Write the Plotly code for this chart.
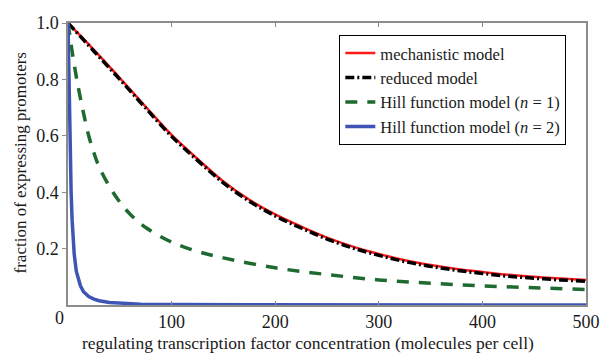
import plotly.graph_objects as go

# ---- data ----
conc = [0, 25, 50, 75, 100, 125, 150, 175, 200, 225, 250, 275, 300, 325, 350, 375, 400, 425, 450, 475, 500]
mechanistic = [1.0, 0.905, 0.805, 0.703, 0.603, 0.518, 0.438, 0.373, 0.321, 0.278, 0.239, 0.207, 0.181, 0.159, 0.142, 0.128, 0.117, 0.107, 0.100, 0.094, 0.089]
reduced = [1.0, 0.900, 0.800, 0.698, 0.598, 0.513, 0.433, 0.368, 0.316, 0.273, 0.234, 0.202, 0.176, 0.154, 0.137, 0.123, 0.112, 0.102, 0.095, 0.089, 0.084]

conc_h1 = [0, 5, 10, 15, 20, 25, 30, 40, 50, 60, 75, 100, 125, 150, 200, 250, 300, 350, 400, 450, 500]
hill_n1 = [1.0, 0.875, 0.77, 0.68, 0.60, 0.54, 0.49, 0.42, 0.365, 0.322, 0.275, 0.223, 0.19, 0.167, 0.132, 0.108, 0.089, 0.077, 0.068, 0.061, 0.055]

conc_h2 = [0, 0.5, 1, 1.5, 2, 3, 4, 5, 6, 8, 10, 12, 15, 20, 25, 30, 40, 50, 70, 100, 150, 200, 300, 400, 500]
hill_n2 = [1.0, 0.90, 0.72, 0.61, 0.52, 0.40, 0.30, 0.23, 0.18, 0.12, 0.089, 0.068, 0.047, 0.030, 0.021, 0.015, 0.009, 0.006, 0.003, 0.0015, 0.0008, 0.0005, 0.0003, 0.0002, 0.0001]

x_ticks = [100, 200, 300, 400, 500]
y_ticks = [0.2, 0.4, 0.6, 0.8, 1.0]
y_ticklabels = ["0.2", "0.4", "0.6", "0.8", "1.0"]

names = ["mechanistic model", "reduced model",
         "Hill function model (<i>n</i> = 1)", "Hill function model (<i>n</i> = 2)"]

FONT = "Liberation Serif"
AX = "#8c8c8c"
TXT = "#1a1a1a"

fig = go.Figure()
fig.add_trace(go.Scatter(x=conc, y=mechanistic, mode="lines", name=names[0],
                         line=dict(color="#ff1a1a", width=2.5, shape="spline")))
fig.add_trace(go.Scatter(x=conc, y=reduced, mode="lines", name=names[1],
                         line=dict(color="#000000", width=3.5, shape="spline", dash="9px,3px,2px,3px")))
fig.add_trace(go.Scatter(x=conc_h1, y=hill_n1, mode="lines", name=names[2],
                         line=dict(color="#1f6a30", width=3.5, shape="spline", dash="12px,10px")))
fig.add_trace(go.Scatter(x=conc_h2, y=hill_n2, mode="lines", name=names[3],
                         line=dict(color="#3f55b5", width=3.5)))

fig.update_layout(
    width=612, height=354,
    margin=dict(l=68, r=15, t=23, b=49),
    paper_bgcolor="white", plot_bgcolor="white",
    font=dict(family=FONT, size=17, color=TXT),
    showlegend=True,
    legend=dict(x=0.962, y=0.958, xanchor="right", yanchor="top",
                bordercolor="#000", borderwidth=1, bgcolor="white",
                font=dict(family=FONT, size=16.5, color=TXT),
                tracegroupgap=0, itemwidth=30),
    xaxis=dict(range=[0, 500], tickvals=x_ticks, ticktext=[str(v) for v in x_ticks],
               ticks="inside", ticklen=4, tickcolor=AX, showline=True, linecolor=AX,
               linewidth=1.5, mirror="ticks", showgrid=False, zeroline=False,
               tickfont=dict(family=FONT, size=18, color=TXT)),
    yaxis=dict(range=[0, 1], tickvals=y_ticks, ticktext=y_ticklabels,
               ticks="outside", ticklen=4, tickcolor=AX, showline=True, linecolor=AX,
               linewidth=1.5, mirror=True, showgrid=False, zeroline=False,
               tickfont=dict(family=FONT, size=18, color=TXT)),
    yaxis2=dict(range=[0, 1], overlaying="y", side="right", tickvals=y_ticks,
                ticks="inside", ticklen=4, tickcolor=AX, showticklabels=False,
                showline=False, showgrid=False, zeroline=False),
    annotations=[
        dict(text="regulating transcription factor concentration (molecules per cell)",
             xref="paper", yref="paper", x=0.463, y=-0.135, xanchor="center", yanchor="middle",
             showarrow=False, font=dict(family=FONT, size=17.5, color=TXT)),
        dict(text="fraction of expressing promoters", textangle=-90,
             xref="paper", yref="paper", x=-0.091, y=0.505, xanchor="center", yanchor="middle",
             showarrow=False, font=dict(family=FONT, size=17, color=TXT)),
        dict(text="0", xref="paper", yref="paper", x=-0.017, y=-0.046,
             xanchor="center", yanchor="middle", showarrow=False,
             font=dict(family=FONT, size=18, color=TXT)),
    ],
)

fig.write_html("out.html")
